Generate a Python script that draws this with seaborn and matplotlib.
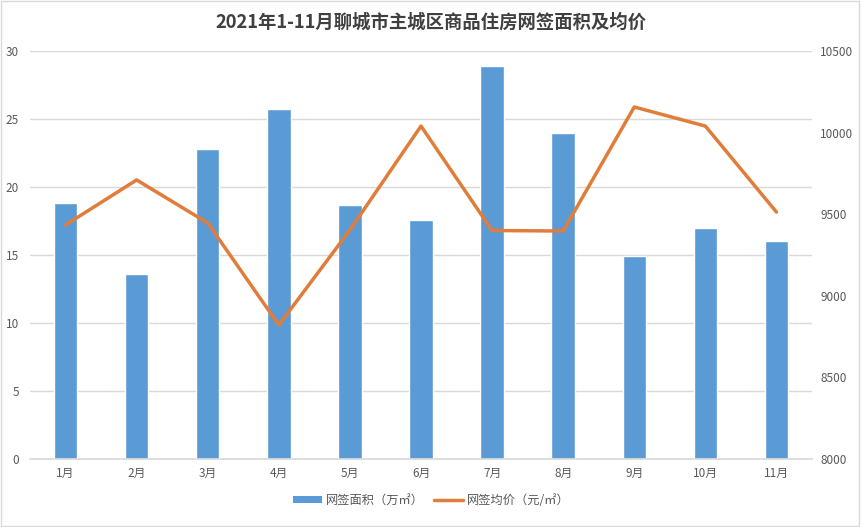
import matplotlib
matplotlib.use("Agg")
import matplotlib.pyplot as plt
import seaborn as sns
import numpy as np
import pandas as pd
from matplotlib.patches import Rectangle
from matplotlib.lines import Line2D
from matplotlib.patches import Patch

months = ["1月", "2月", "3月", "4月", "5月", "6月", "7月", "8月", "9月", "10月", "11月"]
area = [18.8, 13.6, 22.8, 25.7, 18.7, 17.6, 28.9, 24.0, 14.9, 17.0, 16.0]
price = [9434, 9710, 9446, 8821, 9403, 10040, 9400, 9397, 10157, 10040, 9513]
left_ticks = [0, 5, 10, 15, 20, 25, 30]
right_ticks = [8000, 8500, 9000, 9500, 10000, 10500]
title = "2021年1-11月聊城市主城区商品住房网签面积及均价"
label_area = "网签面积（万㎡）"
label_price = "网签均价（元/㎡）"

sns.set_theme(style="white")
plt.rcParams['font.family'] = ['Noto Sans CJK SC', 'DejaVu Sans']

bar_color = "#5B9BD5"
line_color = "#E07D3A"
tick_color = "#595959"

fig = plt.figure(figsize=(8.61, 5.27), dpi=100)
ax = fig.add_axes([30/861, (527-459)/527, (812-30)/861, (459-51)/527])

df = pd.DataFrame({"month": months, "area": area, "price": price, "pos": np.arange(len(months))})
sns.barplot(data=df, x="month", y="area", color=bar_color, width=0.33, saturation=1, ax=ax)
ax.set_ylim(0, 30)
ax.set_yticks(left_ticks)
ax.set_xlim(-0.5, len(months) - 0.5)
ax.grid(axis="y", color="#D9D9D9", linewidth=1)
ax.set_axisbelow(True)
ax.set_xlabel("")
ax.set_ylabel("")
for s in ["top", "left", "right"]:
    ax.spines[s].set_visible(False)
ax.spines["bottom"].set_color("#D9D9D9")
ax.tick_params(axis="both", length=0, colors=tick_color, labelsize=8.5)
ax.tick_params(axis="x", pad=6)
ax.tick_params(axis="y", pad=8)

ax2 = ax.twinx()
sns.lineplot(data=df, x="pos", y="price", color=line_color, linewidth=2.5, ax=ax2)
ax2.set_ylim(8000, 10500)
ax2.set_yticks(right_ticks)
ax2.set_xlim(-0.5, len(months) - 0.5)
ax2.set_ylabel("")
ax2.set_xlabel("")
for s in ["top", "left", "right", "bottom"]:
    ax2.spines[s].set_visible(False)
ax2.tick_params(axis="y", length=0, colors=tick_color, labelsize=8.5, pad=6)

fig.text(431/861, 1 - 22/527, title, ha="center", va="center", fontsize=13.2,
         fontweight="bold", color="#404040")

handles = [Patch(facecolor=bar_color, edgecolor="none"),
           Line2D([0], [0], color=line_color, linewidth=2.5)]
fig.legend(handles, [label_area, label_price], loc="center", bbox_to_anchor=(431/861, 1 - 500/527),
           ncol=2, frameon=False, fontsize=8.8, labelcolor=tick_color,
           handlelength=2.4, handleheight=0.5, columnspacing=0.8, handletextpad=0.3)

fig.patches.append(Rectangle((0.001, 0.001), 0.997, 0.997, transform=fig.transFigure,
                             fill=False, edgecolor="#D9D9D9", linewidth=1))

fig.savefig("out.png", dpi=100)
